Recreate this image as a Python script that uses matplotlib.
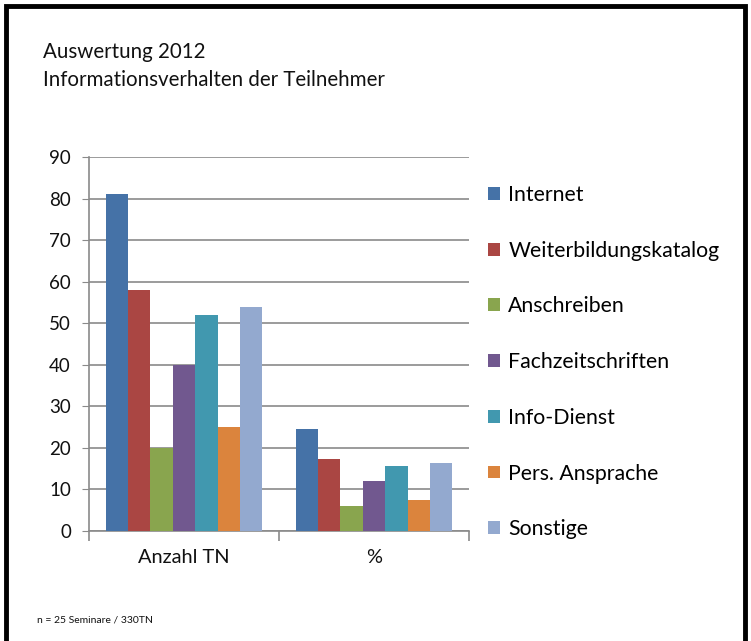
import matplotlib
matplotlib.use("Agg")
import matplotlib.pyplot as plt
from matplotlib.patches import Rectangle
import numpy as np

plt.rcParams['font.family'] = ['Lato', 'DejaVu Sans']

categories = ["Anzahl TN", "%"]
series_names = ["Internet", "Weiterbildungskatalog", "Anschreiben", "Fachzeitschriften",
                "Info-Dienst", "Pers. Ansprache", "Sonstige"]
values_anzahl = [81, 58, 20, 40, 52, 25, 54]
values_pct = [24.5, 17.4, 5.9, 12.1, 15.6, 7.5, 16.4]
colors = ["#4572A7", "#AA4643", "#89A54E", "#71588F", "#4198AF", "#DB843D", "#93A9CF"]
yticks = list(range(0, 91, 10))

W, H = 751, 641
fig = plt.figure(figsize=(W / 100, H / 100), dpi=100)

ax = fig.add_axes([89 / W, 1 - 531 / H, (469 - 89) / W, (531 - 157) / H])

n = len(series_names)
bw = 1 / 8.5
x = np.arange(len(categories))
for i, (name, c) in enumerate(zip(series_names, colors)):
    vals = [values_anzahl[i], values_pct[i]]
    ax.bar(x + (i - (n - 1) / 2) * bw, vals, width=bw, color=c, label=name,
           align='center', zorder=3)

ax.set_xlim(-0.5, 1.5)
ax.set_ylim(0, 90)
ax.set_yticks(yticks)
ax.yaxis.grid(True, color="#8a8a8a", linewidth=1.2, zorder=0)
for s in ["top", "right"]:
    ax.spines[s].set_visible(False)
ax.spines["left"].set_color("#8a8a8a")
ax.spines["bottom"].set_color("#8a8a8a")
ax.spines["left"].set_linewidth(1.2)
ax.spines["bottom"].set_linewidth(1.2)
ax.tick_params(axis='y', length=5, color="#8a8a8a", labelsize=13.5, pad=8, labelcolor="#111111")
ax.set_xticks([-0.5, 0.5, 1.5])
ax.set_xticklabels([])
ax.tick_params(axis='x', length=7, color="#8a8a8a", width=1.2)
ax.set_xticks(x, minor=True)
ax.set_xticklabels(categories, minor=True)
ax.tick_params(axis='x', which='minor', length=0, labelsize=14.4, pad=13, labelcolor="#111111")

handles, labels = ax.get_legend_handles_labels()
ax.legend(handles, labels, loc='upper left', bbox_to_anchor=(488 / W, 1 - 185 / H),
          bbox_transform=fig.transFigure, frameon=False, fontsize=15.3,
          handlelength=0.56, handleheight=0.56, handletextpad=0.4, labelspacing=1.68,
          borderaxespad=0, borderpad=0)

fig.text(43 / W, 1 - 58 / H, "Auswertung 2012", fontsize=14.8, va='baseline', ha='left', color="#111111")
fig.text(43 / W, 1 - 86 / H, "Informationsverhalten der Teilnehmer", fontsize=14.8, va='baseline', ha='left', color="#111111")
fig.text(37 / W, 1 - 620 / H, "n = 25 Seminare / 330TN", fontsize=7.5, va='center', ha='left', color="#111111")

fig.patches.append(Rectangle((6 / W, -0.05), (745 - 6) / W, 1 - 6 / H + 0.05,
                             transform=fig.transFigure, fill=False, edgecolor="black",
                             linewidth=3.5))

fig.savefig("out.png", dpi=100)
